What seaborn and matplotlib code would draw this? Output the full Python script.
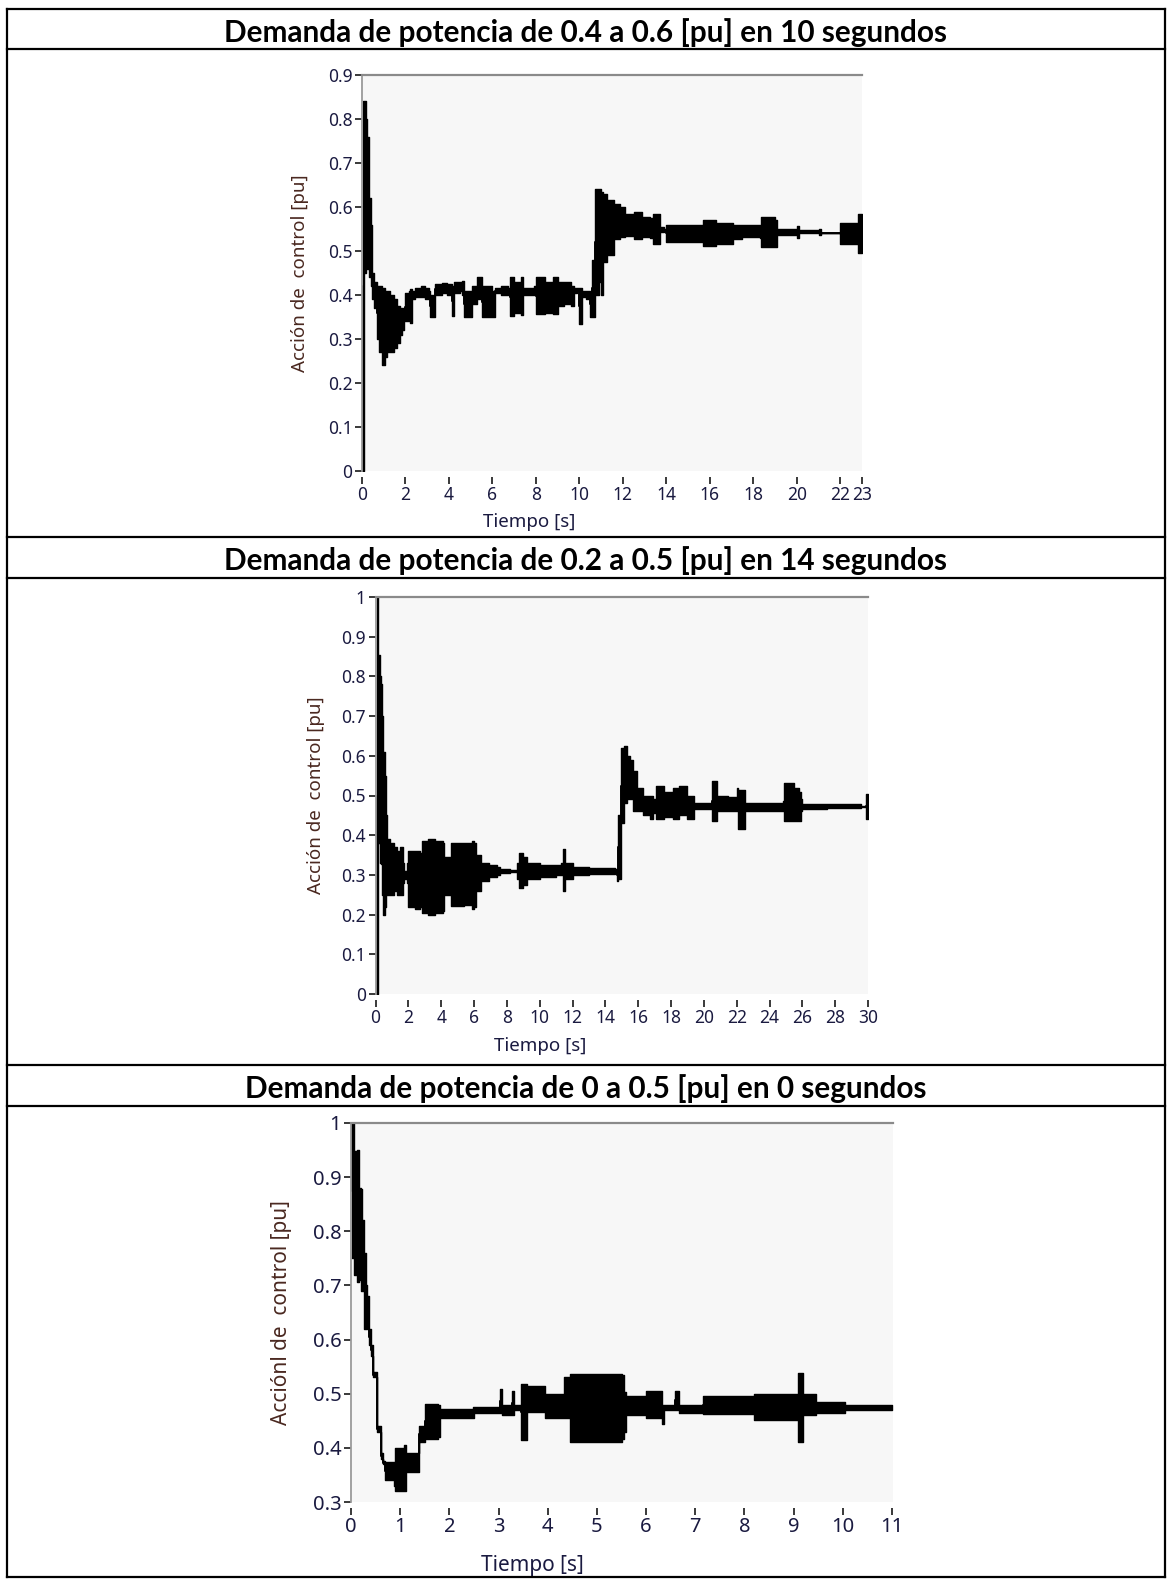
import matplotlib
matplotlib.use("Agg")
import matplotlib.pyplot as plt
import seaborn as sns
import pandas as pd
from matplotlib.lines import Line2D

# ---------------- data (envelope of the control action: time, lower, upper) -------------
titles = [
    "Demanda de potencia de 0.4 a 0.6 [pu] en 10 segundos",
    "Demanda de potencia de 0.2 a 0.5 [pu] en 14 segundos",
    "Demanda de potencia de 0 a 0.5 [pu] en 0 segundos",
]
ylabels = ["Acción de  control [pu]", "Acción de  control [pu]", "Acciónl de  control [pu]"]
xlabel = "Tiempo [s]"

p1_xticks = [0, 2, 4, 6, 8, 10, 12, 14, 16, 18, 20, 22, 23]
p1_yticks = [0, 0.1, 0.2, 0.3, 0.4, 0.5, 0.6, 0.7, 0.8, 0.9]
p1_yticklabels = ["0", "0.1", "0.2", "0.3", "0.4", "0.5", "0.6", "0.7", "0.8", "0.9"]
p1_t = [0.00, 0.05, 0.10, 0.18, 0.25, 0.32, 0.40, 0.48, 0.55, 0.69, 0.80, 0.92, 1.05, 1.15,
        1.30, 1.45, 1.61, 1.75, 1.84, 1.95, 2.00, 2.15, 2.22, 2.30, 2.45, 2.70, 2.90, 3.06,
        3.14, 3.29, 3.37, 3.70, 3.90, 4.14, 4.25, 4.50, 4.60, 4.67, 4.98, 5.06, 5.29, 5.50,
        5.80, 5.96, 6.10, 6.40, 6.70, 6.80, 7.00, 7.30, 7.40, 7.70, 7.90, 8.00, 8.40, 8.80,
        9.00, 9.30, 9.60, 9.75, 9.90, 10.00, 10.10, 10.30, 10.50, 10.60, 10.70, 10.90, 11.00,
        11.10, 11.27, 11.57, 11.88, 12.10, 12.50, 12.90, 13.27, 13.40, 13.60, 13.70, 13.90,
        14.00, 15.50, 15.67, 16.30, 17.06, 17.50, 18.30, 18.37, 19.00, 19.10, 19.80, 20.00,
        20.10, 20.90, 21.00, 21.10, 21.90, 22.00, 22.70, 22.80, 23.00]
p1_lo = [0.00, 0.00, 0.45, 0.50, 0.46, 0.44, 0.42, 0.39, 0.37, 0.30, 0.27, 0.24, 0.26, 0.27,
         0.27, 0.28, 0.29, 0.31, 0.32, 0.34, 0.34, 0.38, 0.337, 0.39, 0.395, 0.395, 0.39, 0.39,
         0.35, 0.35, 0.40, 0.405, 0.40, 0.352, 0.405, 0.41, 0.40, 0.35, 0.35, 0.38, 0.39, 0.35,
         0.35, 0.35, 0.405, 0.40, 0.40, 0.353, 0.36, 0.355, 0.40, 0.40, 0.40, 0.356, 0.36, 0.356,
         0.375, 0.38, 0.375, 0.405, 0.41, 0.333, 0.395, 0.39, 0.35, 0.35, 0.40, 0.43, 0.40,
         0.475, 0.49, 0.528, 0.532, 0.535, 0.528, 0.532, 0.53, 0.517, 0.517, 0.543, 0.545,
         0.52, 0.52, 0.511, 0.517, 0.528, 0.532, 0.53, 0.509, 0.51, 0.537, 0.537, 0.53,
         0.54, 0.54, 0.537, 0.542, 0.542, 0.517, 0.517, 0.495, 0.495]
p1_hi = [0.00, 0.84, 0.84, 0.80, 0.76, 0.62, 0.56, 0.45, 0.43, 0.42, 0.42, 0.415, 0.41, 0.41,
         0.40, 0.39, 0.375, 0.37, 0.37, 0.37, 0.405, 0.41, 0.413, 0.41, 0.415, 0.42, 0.415, 0.41,
         0.40, 0.40, 0.426, 0.428, 0.425, 0.42, 0.43, 0.43, 0.432, 0.41, 0.41, 0.42, 0.44, 0.42,
         0.42, 0.41, 0.415, 0.42, 0.415, 0.44, 0.43, 0.44, 0.415, 0.415, 0.42, 0.44, 0.43, 0.44,
         0.43, 0.43, 0.42, 0.415, 0.415, 0.415, 0.41, 0.41, 0.41, 0.48, 0.64, 0.64, 0.634,
         0.63, 0.615, 0.607, 0.60, 0.585, 0.589, 0.578, 0.574, 0.585, 0.585, 0.555, 0.55,
         0.56, 0.56, 0.57, 0.563, 0.56, 0.558, 0.555, 0.578, 0.57, 0.549, 0.549, 0.556,
         0.548, 0.548, 0.549, 0.542, 0.542, 0.564, 0.564, 0.583, 0.583]

p2_xticks = list(range(0, 31, 2))
p2_yticks = [0, 0.1, 0.2, 0.3, 0.4, 0.5, 0.6, 0.7, 0.8, 0.9, 1.0]
p2_yticklabels = ["0", "0.1", "0.2", "0.3", "0.4", "0.5", "0.6", "0.7", "0.8", "0.9", "1"]
p2_t = [0.00, 0.08, 0.14, 0.18, 0.22, 0.30, 0.35, 0.42, 0.46, 0.55, 0.62, 0.70, 0.90, 1.10,
        1.30, 1.50, 1.65, 1.75, 1.90, 2.00, 2.40, 2.70, 2.85, 3.20, 3.60, 4.10, 4.15, 4.55,
        4.60, 5.40, 5.90, 6.00, 6.10, 6.45, 6.90, 7.40, 7.60, 8.20, 8.60, 8.75, 9.00, 9.20,
        10.00, 11.00, 11.30, 11.40, 11.55, 12.00, 13.00, 14.60, 14.70, 14.80, 14.95, 15.15,
        15.35, 15.50, 15.70, 15.90, 16.30, 16.70, 16.90, 17.10, 17.60, 18.10, 18.50, 19.00,
        19.40, 20.30, 20.50, 20.80, 21.50, 22.00, 22.10, 22.50, 24.00, 24.80, 24.90, 25.50,
        25.80, 25.90, 26.00, 27.50, 29.60, 29.85, 29.90, 30.00]
p2_lo = [0.00, 0.00, 0.40, 0.38, 0.38, 0.33, 0.327, 0.25, 0.20, 0.22, 0.25, 0.25, 0.25, 0.26,
         0.25, 0.25, 0.28, 0.29, 0.28, 0.22, 0.215, 0.22, 0.205, 0.20, 0.205, 0.21, 0.25, 0.25,
         0.222, 0.225, 0.215, 0.22, 0.26, 0.285, 0.295, 0.30, 0.305, 0.307, 0.29, 0.268, 0.275,
         0.29, 0.295, 0.30, 0.30, 0.26, 0.29, 0.30, 0.302, 0.305, 0.285, 0.29, 0.43, 0.48,
         0.49, 0.49, 0.461, 0.46, 0.45, 0.44, 0.455, 0.44, 0.445, 0.44, 0.45, 0.44,
         0.465, 0.465, 0.436, 0.46, 0.46, 0.46, 0.415, 0.46, 0.46, 0.46, 0.435, 0.435,
         0.435, 0.46, 0.465, 0.468, 0.47, 0.47, 0.44, 0.44]
p2_hi = [0.00, 1.00, 1.00, 0.60, 0.855, 0.80, 0.78, 0.70, 0.61, 0.55, 0.45, 0.39, 0.38, 0.37,
         0.36, 0.37, 0.33, 0.31, 0.33, 0.36, 0.36, 0.355, 0.385, 0.39, 0.385, 0.38, 0.345, 0.345,
         0.381, 0.38, 0.385, 0.38, 0.35, 0.33, 0.325, 0.32, 0.315, 0.313, 0.33, 0.356, 0.345,
         0.33, 0.325, 0.325, 0.33, 0.365, 0.33, 0.32, 0.318, 0.315, 0.315, 0.45, 0.62, 0.625,
         0.60, 0.59, 0.562, 0.52, 0.50, 0.50, 0.49, 0.524, 0.51, 0.52, 0.525, 0.50,
         0.48, 0.48, 0.536, 0.50, 0.495, 0.52, 0.515, 0.48, 0.48, 0.485, 0.532, 0.52,
         0.51, 0.49, 0.478, 0.478, 0.474, 0.474, 0.505, 0.505]

p3_xticks = list(range(0, 12))
p3_yticks = [0.3, 0.4, 0.5, 0.6, 0.7, 0.8, 0.9, 1.0]
p3_yticklabels = ["0.3", "0.4", "0.5", "0.6", "0.7", "0.8", "0.9", "1"]
p3_t = [0.00, 0.03, 0.07, 0.12, 0.16, 0.20, 0.23, 0.26, 0.30, 0.32, 0.36, 0.40, 0.45, 0.53,
        0.62, 0.66, 0.70, 0.87, 0.90, 1.08, 1.12, 1.30, 1.38, 1.50, 1.76, 1.80, 2.14, 2.48,
        2.50, 3.00, 3.03, 3.07, 3.24, 3.28, 3.32, 3.44, 3.45, 3.58, 3.92, 3.95, 4.30, 4.34,
        4.46, 5.50, 5.55, 5.60, 5.95, 6.00, 6.30, 6.33, 6.37, 6.54, 6.58, 6.67, 7.13, 7.15,
        8.15, 8.20, 9.03, 9.08, 9.20, 9.40, 9.46, 10.00, 10.05, 11.00]
p3_lo = [1.00, 0.75, 0.72, 0.707, 0.71, 0.69, 0.69, 0.62, 0.62, 0.62, 0.59, 0.57, 0.53, 0.43,
         0.38, 0.37, 0.34, 0.33, 0.32, 0.32, 0.356, 0.356, 0.41, 0.417, 0.42, 0.455, 0.455, 0.455,
         0.465, 0.465, 0.465, 0.46, 0.46, 0.46, 0.47, 0.47, 0.414, 0.466, 0.466, 0.455, 0.455, 0.455,
         0.411, 0.417, 0.43, 0.46, 0.46, 0.455, 0.455, 0.444, 0.47, 0.47, 0.47, 0.465, 0.465, 0.462,
         0.462, 0.451, 0.451, 0.411, 0.46, 0.46, 0.465, 0.465, 0.47, 0.47]
p3_hi = [1.00, 1.00, 0.948, 0.95, 0.88, 0.878, 0.82, 0.759, 0.70, 0.68, 0.62, 0.59, 0.54, 0.44,
         0.39, 0.375, 0.374, 0.374, 0.40, 0.405, 0.39, 0.39, 0.44, 0.481, 0.48, 0.472, 0.472, 0.475,
         0.475, 0.475, 0.509, 0.48, 0.48, 0.505, 0.48, 0.48, 0.518, 0.515, 0.515, 0.50, 0.50, 0.53,
         0.536, 0.535, 0.503, 0.495, 0.495, 0.505, 0.505, 0.48, 0.48, 0.48, 0.505, 0.48, 0.48, 0.496,
         0.496, 0.50, 0.50, 0.539, 0.50, 0.50, 0.485, 0.485, 0.48, 0.48]

# ---------------- style --------------------------------------------------------------
sns.set_theme(style="white")
plt.rcParams["font.family"] = ["Noto Sans", "DejaVu Sans"]

W, H = 1168, 1579
fig = plt.figure(figsize=(W / 100, H / 100), dpi=100)
fig.patch.set_facecolor("white")

def px_axes(left, right, top, bottom):
    return fig.add_axes([left / W, 1 - bottom / H, (right - left) / W, (bottom - top) / H])

def hline(y, x0=7, x1=1165):
    fig.add_artist(Line2D([x0 / W, x1 / W], [1 - y / H, 1 - y / H], transform=fig.transFigure,
                          color="black", lw=1.6, solid_capstyle="projecting"))

def vline(x, y0, y1):
    fig.add_artist(Line2D([x / W, x / W], [1 - y0 / H, 1 - y1 / H], transform=fig.transFigure,
                          color="black", lw=1.6, solid_capstyle="projecting"))

# table frame
for y in [9, 49, 537, 578, 1065, 1106, 1577]:
    hline(y)
vline(7, 9, 1577)
vline(1165, 9, 1577)

# titles (fit width of first title to ~725 px)
title_y = [33, 561, 1089]
renderer = fig.canvas.get_renderer()
tt = fig.text(0.5, 0.5, titles[0], fontsize=18, fontweight="bold", family=["Lato", "DejaVu Sans"])
wpx = tt.get_window_extent(renderer).width
tfs = 18 * 725 / wpx
tt.remove()
for ttl, yy in zip(titles, title_y):
    fig.text(586 / W, 1 - yy / H, ttl, fontsize=tfs, fontweight="bold", family=["Lato", "DejaVu Sans"],
             ha="center", va="center", color="black")

panels = [
    dict(t=p1_t, lo=p1_lo, hi=p1_hi, xt=p1_xticks, yt=p1_yticks, ytl=p1_yticklabels,
         box=(362, 862, 75, 471), xlim=(0, 23), ylim=(0, 0.9), fs=12.5, lfs=13.5,
         yl_x=-0.106, xl_y=-0.105),
    dict(t=p2_t, lo=p2_lo, hi=p2_hi, xt=p2_xticks, yt=p2_yticks, ytl=p2_yticklabels,
         box=(375.5, 868, 597, 994), xlim=(0, 30), ylim=(0, 1.0), fs=12.5, lfs=13.5,
         yl_x=-0.1025, xl_y=-0.108),
    dict(t=p3_t, lo=p3_lo, hi=p3_hi, xt=p3_xticks, yt=p3_yticks, ytl=p3_yticklabels,
         box=(351, 893, 1123, 1502), xlim=(0, 11.02), ylim=(0.3, 1.0), fs=14.5, lfs=15,
         yl_x=-0.109, xl_y=-0.14),
]

for i, p in enumerate(panels):
    ax = px_axes(*p["box"])
    ax.set_facecolor("#f7f7f7")
    df = pd.DataFrame({"t": list(p["t"]) + list(p["t"]),
                       "v": list(p["lo"]) + list(p["hi"])})
    sns.lineplot(data=df, x="t", y="v", estimator="mean", errorbar=("pi", 100),
                 color="black", lw=1.4, ax=ax, drawstyle="steps-post",
                 err_kws=dict(alpha=1, linewidth=1.0, step="post"))
    ax.set_xlim(*p["xlim"])
    ax.set_ylim(*p["ylim"])
    ax.set_xticks(p["xt"])
    ax.set_xticklabels([str(v) for v in p["xt"]])
    ax.set_yticks(p["yt"])
    ax.set_yticklabels(p["ytl"])
    for s in ["right", "bottom"]:
        ax.spines[s].set_visible(False)
    ax.spines["bottom"].set_position(("outward", 4))
    ax.spines["top"].set_color("#8a8a8a")
    ax.spines["top"].set_linewidth(1.6)
    ax.spines["left"].set_color("#9a9a9a")
    ax.spines["left"].set_linewidth(1.3)
    ax.xaxis.set_ticks_position("bottom")
    ax.yaxis.set_ticks_position("left")
    ax.tick_params(axis="both", direction="out", length=5, width=1.3, color="#2a2a2a",
                   labelsize=p["fs"], labelcolor="#1a1a40", pad=2)
    ax.set_xlabel(xlabel, fontsize=p["lfs"], color="#1a1a40")
    ax.set_ylabel(ylabels[i], fontsize=p["lfs"], color="#4a2820")
    ax.yaxis.set_label_coords(p["yl_x"], 0.5)
    ax.xaxis.set_label_coords(0.335, p["xl_y"])

fig.savefig("out.png", dpi=100, facecolor="white")
